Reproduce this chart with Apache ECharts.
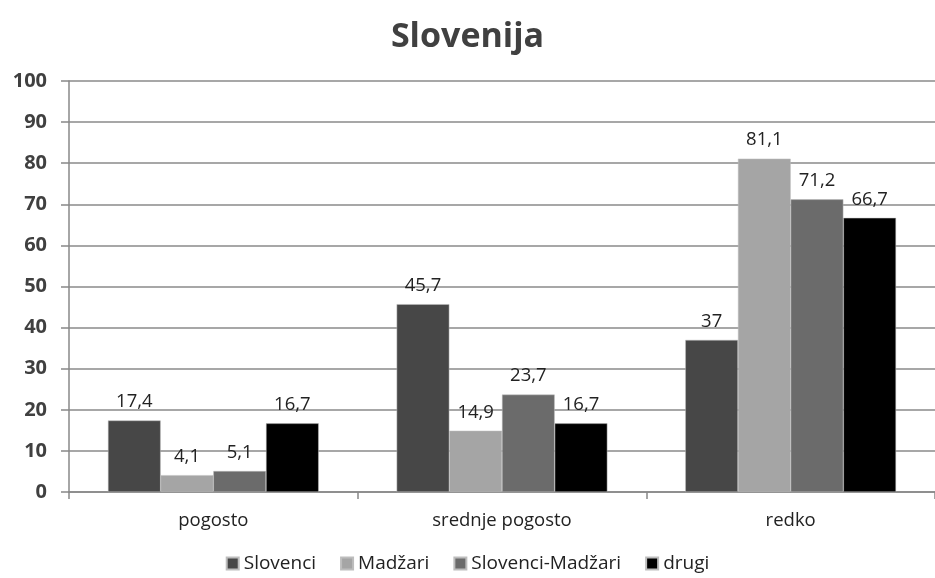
<!DOCTYPE html>
<html>
<head>
<meta charset="utf-8">
<script src="https://cdn.jsdelivr.net/npm/echarts@6/dist/echarts.min.js"></script>
<style>
  html, body { margin: 0; padding: 0; background: #fff; }
  #chart { width: 935px; height: 578px; }
</style>
</head>
<body>
<div id="chart"></div>
<script>
// podatki
const categories = ['pogosto', 'srednje pogosto', 'redko']
const seriesNames = ['Slovenci', 'Madžari', 'Slovenci-Madžari', 'drugi']
const slovenci = [17.4, 45.7, 37]
const madzari = [4.1, 14.9, 81.1]
const slovenciMadzari = [5.1, 23.7, 71.2]
const drugi = [16.7, 16.7, 66.7]
const yTicks = [0, 10, 20, 30, 40, 50, 60, 70, 80, 90, 100]

const colors = ['#474747', '#a5a5a5', '#6b6b6b', '#000000']
const values = [slovenci, madzari, slovenciMadzari, drugi]
const font = '"Open Sans", sans-serif'

const chart = echarts.init(document.getElementById('chart'))

const series = seriesNames.map((name, i) => ({
  name: name,
  type: 'bar',
  data: values[i],
  barGap: '0%',
  barCategoryGap: '27%',
  itemStyle: { color: colors[i], borderColor: '#bdbdbd', borderWidth: 0.5 },
  label: {
    show: true,
    position: 'top',
    distance: 9,
    color: '#222',
    fontFamily: font,
    fontSize: 18.5,
    formatter: p => String(p.value).replace('.', ',')
  }
}))

chart.setOption({
  animation: false,
  title: {
    text: 'Slovenija',
    left: 'center',
    top: 15,
    textStyle: { fontFamily: font, fontSize: 34, fontWeight: 'bold', color: '#404040' }
  },
  legend: {
    data: seriesNames,
    bottom: 0,
    left: 'center',
    itemWidth: 12,
    itemHeight: 12,
    itemGap: 24,
    icon: 'rect',
    textStyle: { fontFamily: font, fontSize: 19, color: '#222' }
  },
  grid: { left: 69, top: 81, width: 870, height: 411 },
  xAxis: {
    type: 'category',
    data: categories,
    axisLine: { lineStyle: { color: '#888', width: 1.5 } },
    axisTick: { show: true, length: 7, lineStyle: { color: '#888', width: 1.5 } },
    axisLabel: { fontFamily: font, fontSize: 18.5, color: '#222', margin: 19 }
  },
  yAxis: {
    type: 'value',
    min: yTicks[0],
    max: yTicks[yTicks.length - 1],
    interval: 10,
    axisLine: { show: true, lineStyle: { color: '#888', width: 1.5 } },
    axisTick: { show: true, length: 8, lineStyle: { color: '#888', width: 1.5 } },
    splitLine: { lineStyle: { color: '#8a8a8a', width: 1.5 } },
    axisLabel: { fontFamily: font, fontSize: 20, fontWeight: 'bold', color: '#404040', margin: 22 }
  },
  series: series
})
</script>
</body>
</html>
